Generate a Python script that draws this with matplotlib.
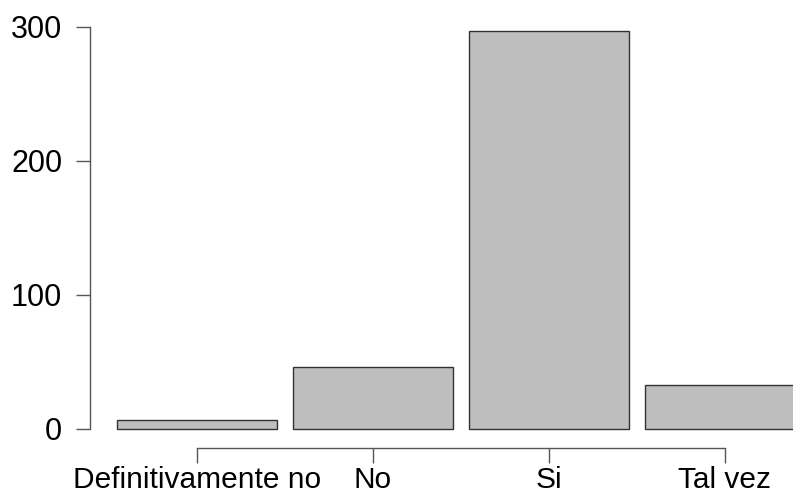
import matplotlib
matplotlib.use("Agg")
import matplotlib.pyplot as plt

categories = ["Definitivamente no", "No", "Si", "Tal vez"]
counts = [7, 46, 297, 33]
yticks = [0, 100, 200, 300]

plt.rcParams['font.family'] = ['Liberation Sans', 'DejaVu Sans']

W, H = 793, 500
fig = plt.figure(figsize=(W / 100, H / 100), dpi=100)

# pixel geometry
ax_left_px, ax_right_px = 90, 793
ax_top_px, ax_bot_px = 10, 448
x0_px, step_px = 197, 176
y0_px, ppu = 429, 1.34

ax = fig.add_axes([ax_left_px / W, (H - ax_bot_px) / H,
                   (ax_right_px - ax_left_px) / W, (ax_bot_px - ax_top_px) / H])
ax.set_xlim((ax_left_px - x0_px) / step_px, (ax_right_px - x0_px) / step_px)
ax.set_ylim(-(ax_bot_px - y0_px) / ppu, (y0_px - ax_top_px) / ppu)

x = list(range(len(categories)))
ax.bar(x, counts, width=0.905, color="#bebebe", edgecolor="#333333", linewidth=1.0)

for s in ["top", "right"]:
    ax.spines[s].set_visible(False)
ax.spines["left"].set_bounds(0, 300)
ax.spines["bottom"].set_bounds(0, 3)
for s in ["left", "bottom"]:
    ax.spines[s].set_color("#555555")
    ax.spines[s].set_linewidth(1.0)

ax.set_yticks(yticks)
ax.set_yticklabels([str(t) for t in yticks])
ax.set_xticks(x)
ax.set_xticklabels(categories)
ax.tick_params(axis="y", length=10, width=1.0, color="#555555", pad=10, labelsize=22)
ax.tick_params(axis="x", length=10.5, width=1.0, color="#555555", pad=2.5, labelsize=21.5)

fig.savefig("out.png", dpi=100)
